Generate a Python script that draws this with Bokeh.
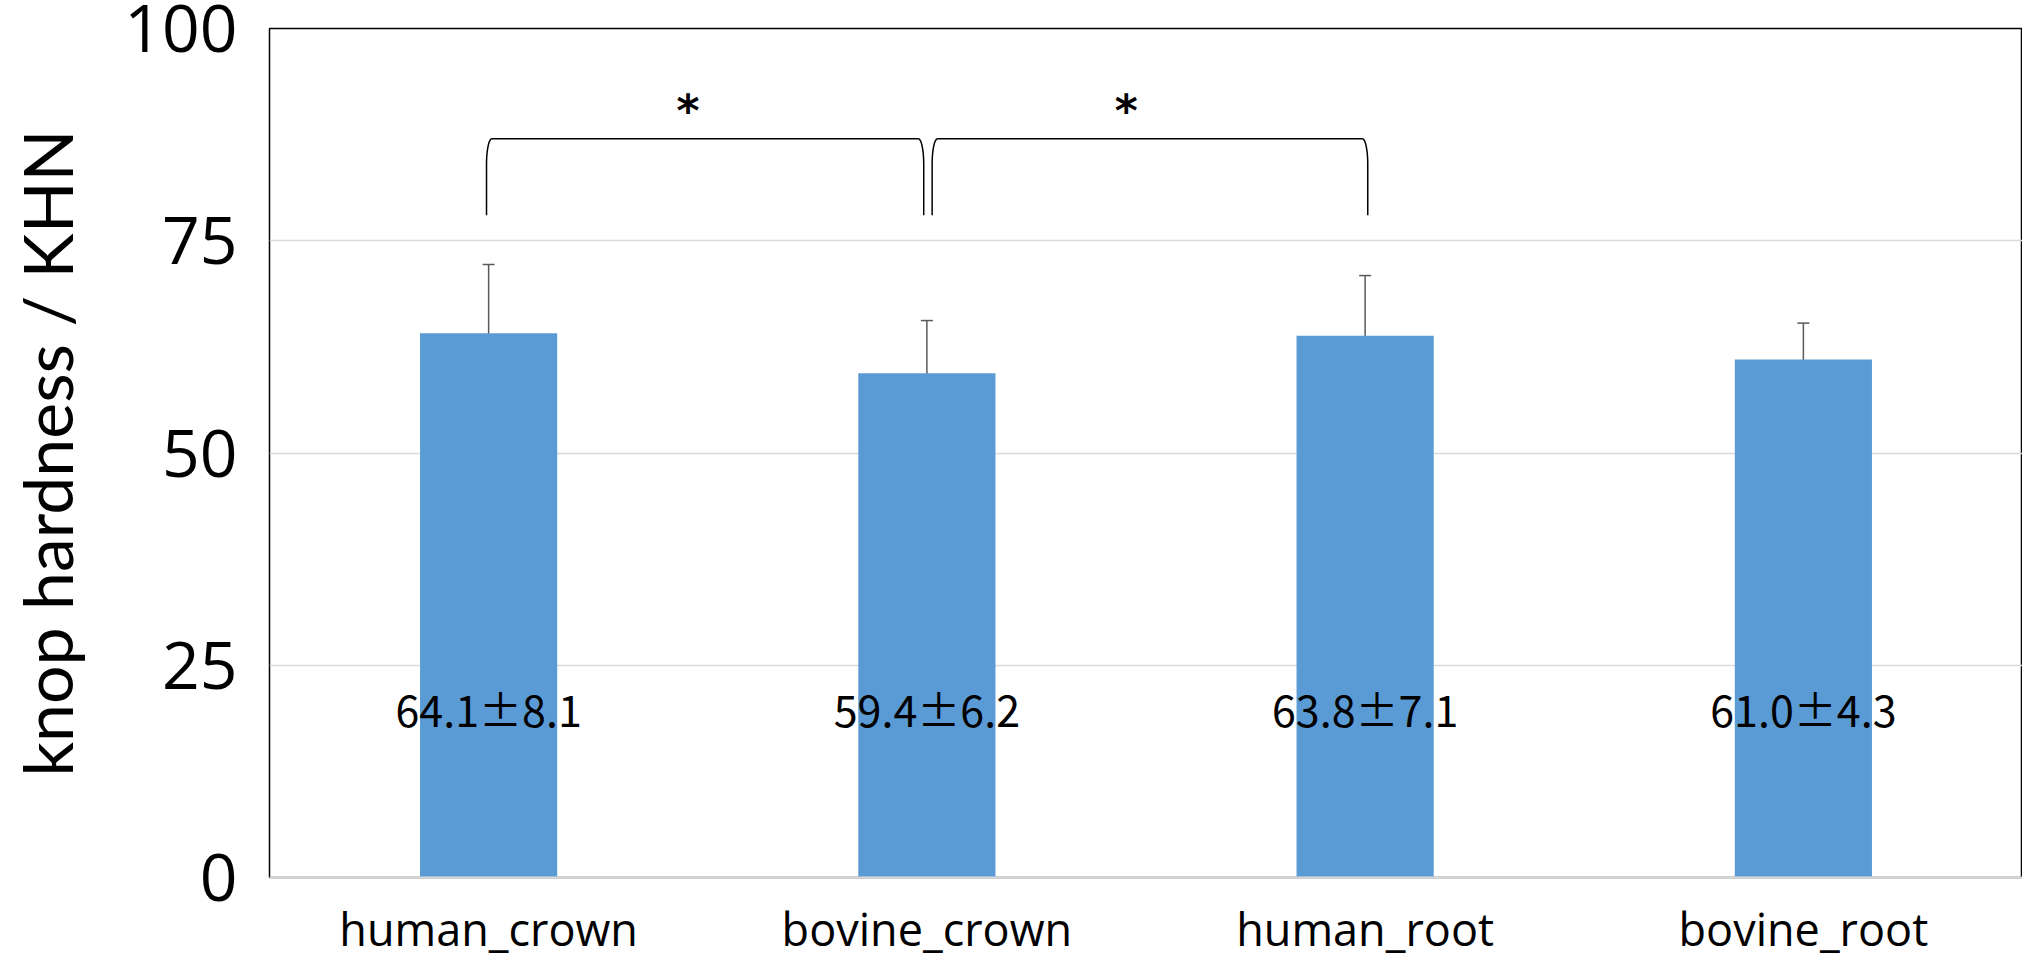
import numpy as np
from bokeh.plotting import figure
from bokeh.models import Range1d, FixedTicker, ColumnDataSource, Whisker, TeeHead
from bokeh.core.properties import value
from bokeh.embed import file_html
from bokeh.resources import INLINE

categories = ["human_crown", "bovine_crown", "human_root", "bovine_root"]
means = [64.1, 59.4, 63.8, 61.0]
sds = [8.1, 6.2, 7.1, 4.3]
comparisons = [(0, 1), (1, 2)]
sig_marks = ["*", "*"]
y_ticks = [0, 25, 50, 75, 100]

FONT = "Open Sans"
BAR_COLOR = "#5B9BD5"

xs = [i + 1 for i in range(len(categories))]
labels = ["%.1f\u00b1%.1f" % (m, s) for m, s in zip(means, sds)]
src = ColumnDataSource(dict(
    x=xs, top=means,
    upper=[m + s for m, s in zip(means, sds)],
    lower=[m - s for m, s in zip(means, sds)],
    label=labels, ly=[20] * len(xs),
))

p = figure(width=2022, height=962, output_backend="svg", toolbar_location=None,
           x_range=Range1d(0.5, len(categories) + 0.5), y_range=Range1d(0, 100),
           min_border_left=269, min_border_right=0, min_border_top=28,
           min_border_bottom=85)

p.outline_line_color = "black"
p.outline_line_width = 1.5
p.background_fill_color = "white"
p.border_fill_color = "white"

p.vbar(x="x", top="top", width=0.313, bottom=0, source=src,
       fill_color=BAR_COLOR, line_color=None)

w = Whisker(base="x", upper="upper", lower="lower", source=src,
            line_color="#595959", line_width=1.5,
            upper_head=TeeHead(size=12, line_color="#595959", line_width=1.5),
            lower_head=TeeHead(size=12, line_color="#595959", line_width=1.5))
p.add_layout(w)

p.text(x="x", y="ly", text="label", source=src, text_align="center",
       text_baseline="middle", text_font=value("Noto Sans CJK JP"),
       text_font_size="43px", text_color="black")

# significance brackets
y_top, y_bot = 87.0, 78.0
gap, rx, ry = 0.012, 0.012, 3.0
t = np.linspace(0, np.pi / 2, 24)
for (a, b), mark in zip(comparisons, sig_marks):
    x0 = xs[a] + (gap if a > 0 else -gap * 0.4)
    x1 = xs[b] - gap * 0.6 if b == 1 else xs[b] + gap * 0.5
    left_x = list(x0 + rx - rx * np.cos(t))
    left_y = list(y_top - ry + ry * np.sin(t))
    right_x = list(x1 - rx + rx * np.cos(t[::-1]))
    right_y = list(y_top - ry + ry * np.sin(t[::-1]))
    bx = [x0] + left_x + right_x + [x1]
    by = [y_bot] + left_y + right_y + [y_bot]
    p.line(bx, by, line_color="black", line_width=1.5)
    p.text(x=[(xs[a] + xs[b]) / 2 - 0.045], y=[90.3], text=[mark], text_align="center",
           text_baseline="middle", text_font=value("DejaVu Sans"),
           text_font_style="bold", text_font_size="44px", text_color="black")

p.yaxis.ticker = FixedTicker(ticks=y_ticks)
p.yaxis.axis_label = "knop hardness / KHN"
p.yaxis.axis_label_text_font = "Lato"
p.yaxis.axis_label_text_font_size = "68px"
p.yaxis.axis_label_text_font_style = "normal"
p.yaxis.axis_label_text_color = "black"
p.yaxis.axis_label_standoff = 34
p.yaxis.major_label_text_font = FONT
p.yaxis.major_label_text_font_size = "66px"
p.yaxis.major_label_text_color = "black"
p.yaxis.major_label_text_align = "center"
p.yaxis.major_label_standoff = 26
p.yaxis.axis_line_color = None
p.yaxis.major_tick_line_color = None
p.yaxis.minor_tick_line_color = None

p.xaxis.ticker = FixedTicker(ticks=xs)
p.xaxis.major_label_overrides = {x: c for x, c in zip(xs, categories)}
p.xaxis.major_label_text_font = FONT
p.xaxis.major_label_text_font_size = "45px"
p.xaxis.major_label_text_color = "black"
p.xaxis.major_label_standoff = 14
p.xaxis.axis_line_color = "#d9d9d9"
p.xaxis.axis_line_width = 2
p.xaxis.major_tick_line_color = None
p.xaxis.minor_tick_line_color = None

p.xgrid.grid_line_color = None
p.ygrid.grid_line_color = "#d9d9d9"
p.ygrid.grid_line_width = 1.5

open("out.html", "w").write(file_html(p, INLINE))
